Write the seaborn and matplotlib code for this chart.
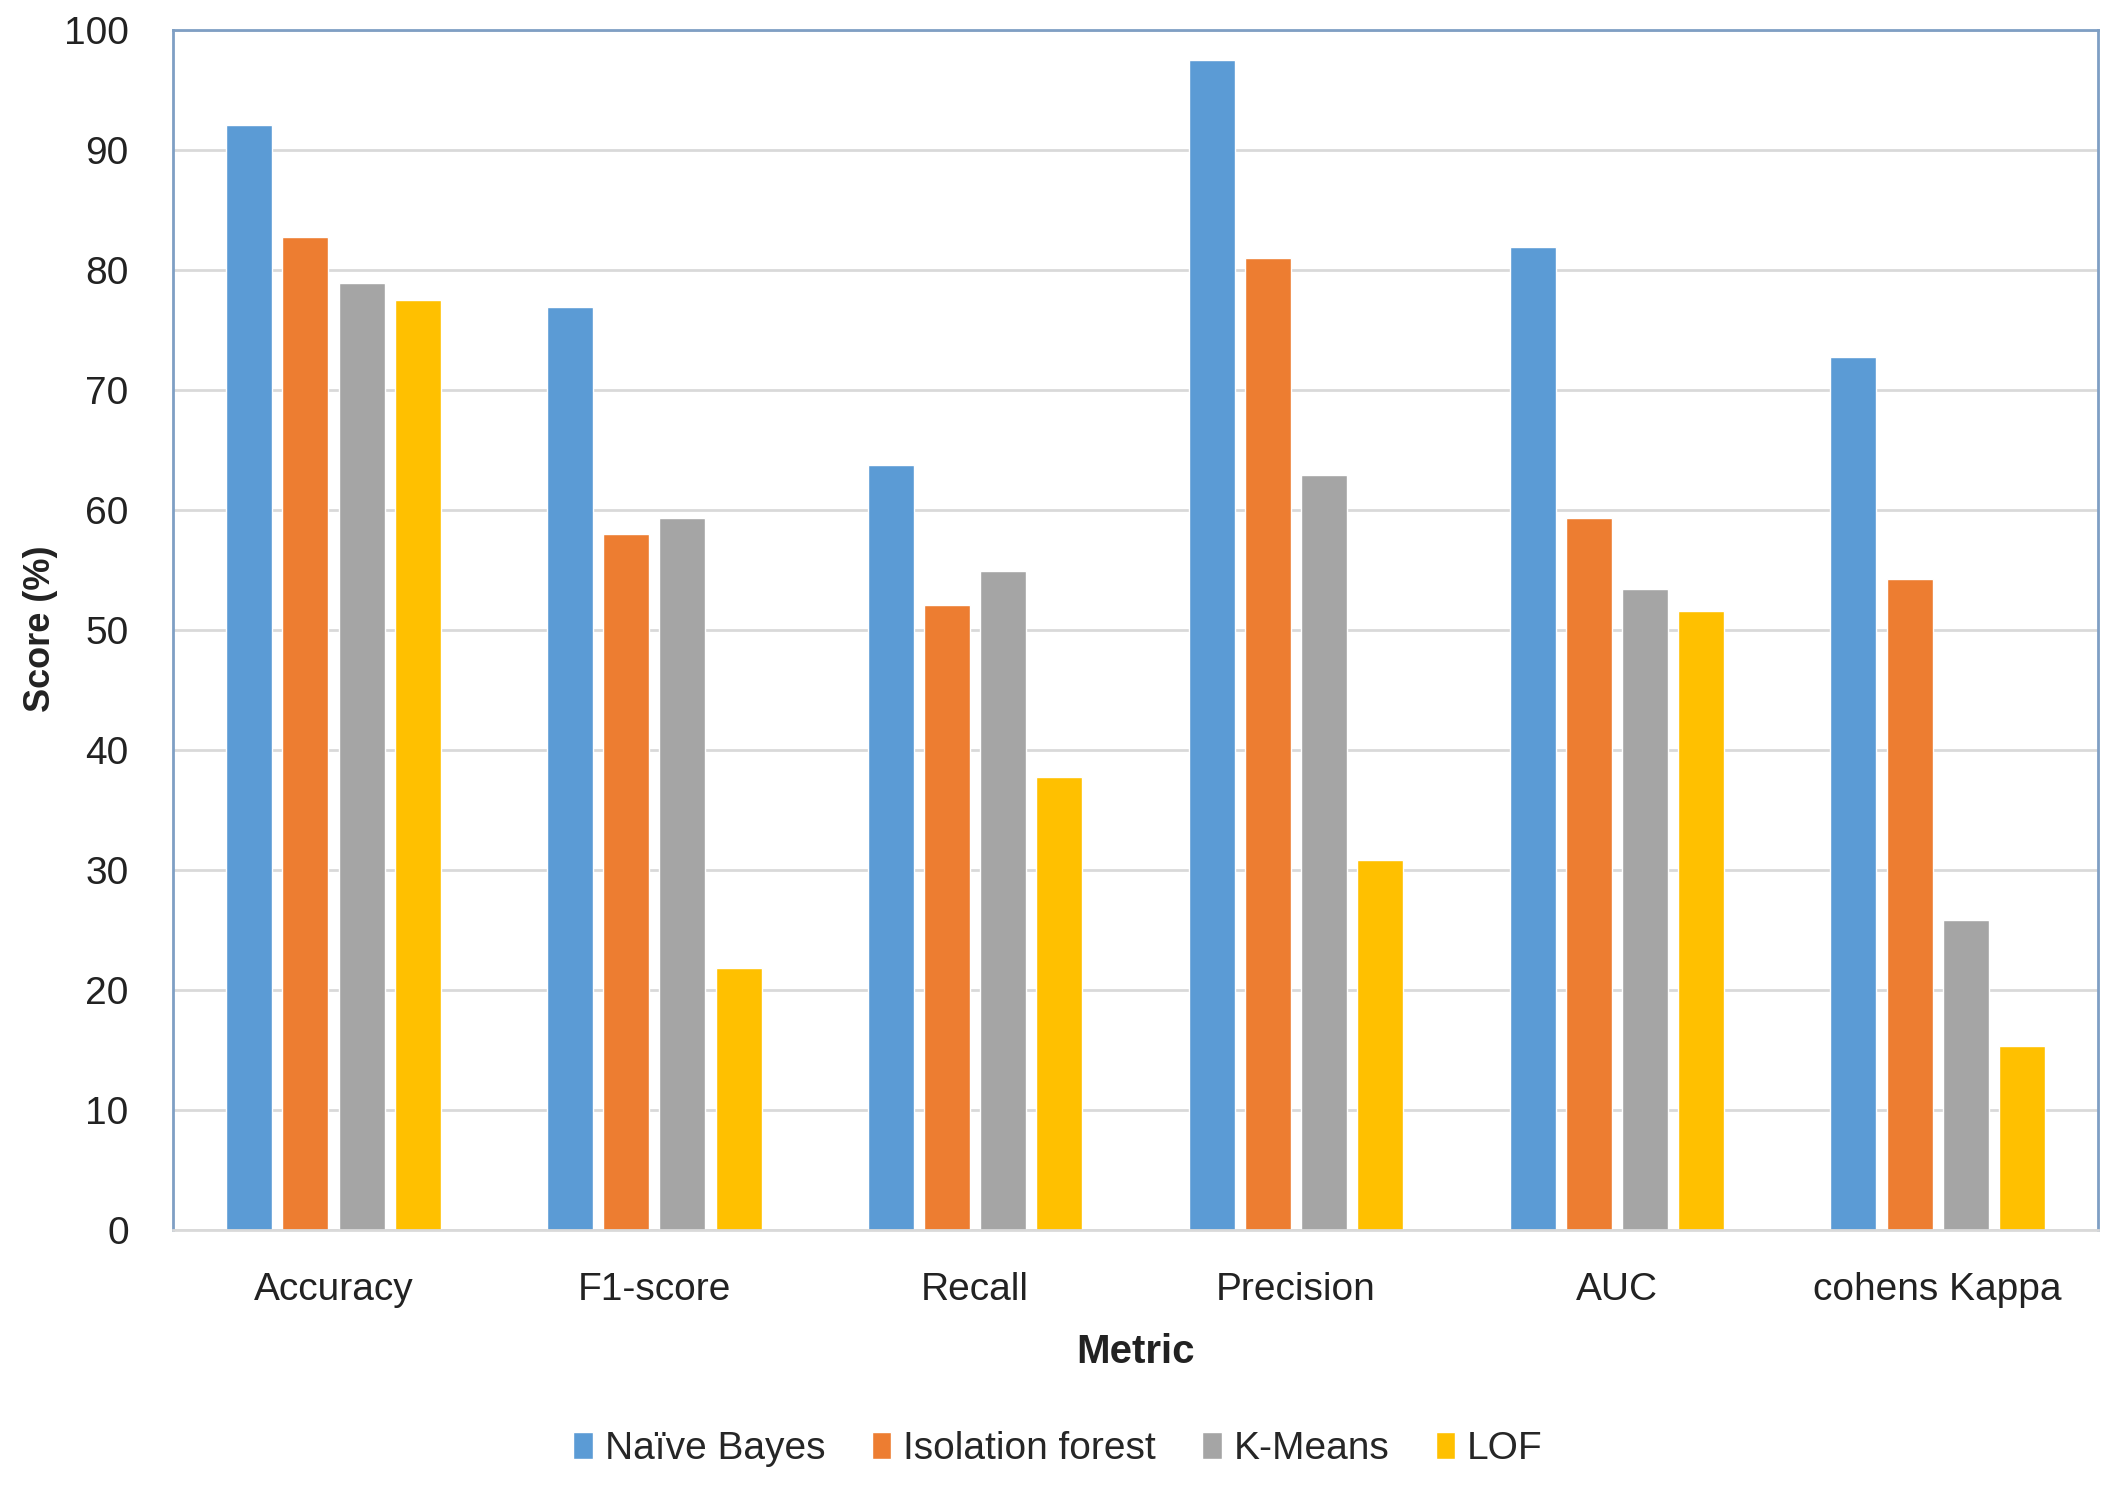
import matplotlib
matplotlib.use("Agg")
import matplotlib.pyplot as plt
import seaborn as sns
import pandas as pd
from matplotlib.patches import Patch

metrics = ["Accuracy", "F1-score", "Recall", "Precision", "AUC", "cohens Kappa"]
models = ["Naïve Bayes", "Isolation forest", "K-Means", "LOF"]
naive_bayes = [92.1, 76.9, 63.7, 97.5, 81.9, 72.7]
isolation_forest = [82.7, 58.0, 52.1, 81.0, 59.3, 54.2]
k_means = [78.9, 59.3, 54.9, 62.9, 53.4, 25.8]
lof = [77.5, 21.8, 37.7, 30.8, 51.6, 15.3]
colors = ["#5B9BD5", "#ED7D31", "#A5A5A5", "#FFC000"]
yticks = [0, 10, 20, 30, 40, 50, 60, 70, 80, 90, 100]

rows = []
for model, vals in zip(models, [naive_bayes, isolation_forest, k_means, lof]):
    for m, v in zip(metrics, vals):
        rows.append({"Metric": m, "Model": model, "Score": v})
df = pd.DataFrame(rows)

sns.set_theme(style="white")
plt.rcParams["font.family"] = ["Liberation Sans Narrow", "Liberation Sans", "DejaVu Sans"]

fig = plt.figure(figsize=(21.16, 14.89), dpi=100)
ax = fig.add_axes([0.0818, 0.174, 0.9097, 0.806])

sns.barplot(data=df, x="Metric", y="Score", hue="Model", order=metrics,
            hue_order=models, palette=colors, width=0.7, saturation=1,
            legend=False, ax=ax)

# narrow bars within slots (gap between bars)
for p in ax.patches:
    w = p.get_width()
    cx = p.get_x() + w / 2
    nw = w * 0.82
    p.set_x(cx - nw / 2)
    p.set_width(nw)

ax.set_ylim(0, 100)
ax.set_xlim(-0.5, len(metrics) - 0.5)
ax.set_yticks(yticks)
ax.set_yticklabels([str(t) for t in yticks])
ax.yaxis.grid(True, color="#D9D9D9", linewidth=2)
ax.set_axisbelow(True)
ax.tick_params(axis="both", length=0, labelsize=28, colors="#222222")
ax.tick_params(axis="y", pad=32)
ax.tick_params(axis="x", pad=30)

for side in ["left", "top", "right"]:
    ax.spines[side].set_visible(True)
    ax.spines[side].set_color("#7F9FC4")
    ax.spines[side].set_linewidth(2)
ax.spines["bottom"].set_color("#D9D9D9")
ax.spines["bottom"].set_linewidth(2)

ax.set_ylabel("")
fig.text(0.019, 0.578, "Score (%)", rotation=90, ha="center", va="center",
         fontsize=26, fontweight="bold", color="#222222")
ax.set_xlabel("Metric", fontsize=29, fontweight="bold", labelpad=18, color="#222222")

handles = [Patch(facecolor=c, label=m) for c, m in zip(colors, models)]
fig.legend(handles=handles, loc="center", bbox_to_anchor=(0.5, 0.027), ncol=4,
           frameon=False, fontsize=28, handlelength=0.5, handleheight=0.7,
           handletextpad=0.3, columnspacing=1.2)

fig.savefig("out.png", dpi=100)
